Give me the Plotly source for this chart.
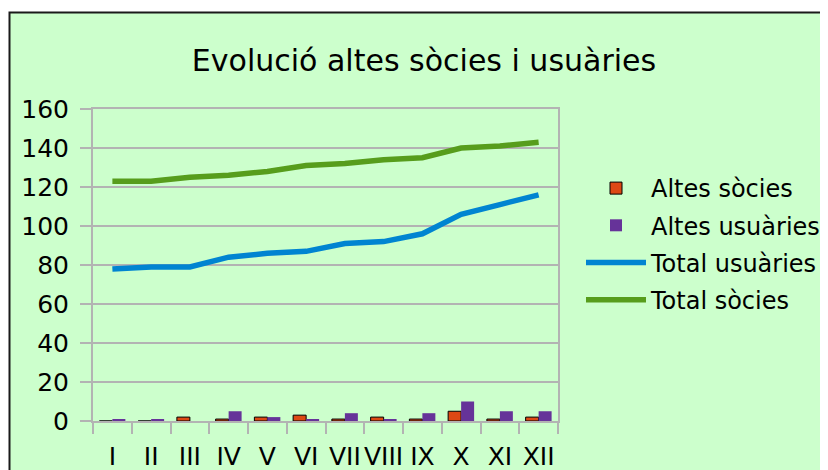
import plotly.graph_objects as go

months = ["I", "II", "III", "IV", "V", "VI", "VII", "VIII", "IX", "X", "XI", "XII"]
altes_socies = [0, 0, 2, 1, 2, 3, 1, 2, 1, 5, 1, 2]
altes_usuaries = [1, 1, 0, 5, 2, 1, 4, 1, 4, 10, 5, 5]
total_usuaries = [78, 79, 79, 84, 86, 87, 91, 92, 96, 106, 111, 116]
total_socies = [123, 123, 125, 126, 128, 131, 132, 134, 135, 140, 141, 143]
y_ticks = [0, 20, 40, 60, 80, 100, 120, 140, 160]

FONT = "DejaVu Sans"
GRID = "#B3B3B3"
OFF = 8  # page body margin

fig = go.Figure()
fig.add_trace(go.Bar(x=months, y=altes_socies, name="Altes sòcies",
                     marker=dict(color="#DD4814", line=dict(color="#000000", width=1)),
                     legendgroup="a"))
fig.add_trace(go.Bar(x=months, y=altes_usuaries, name="Altes usuàries",
                     marker=dict(color="#663399", line=dict(width=0)),
                     legendgroup="b"))
fig.add_trace(go.Scatter(x=months, y=total_usuaries, name="Total usuàries", mode="lines",
                         line=dict(color="#0084D1", width=5.5), legendgroup="c"))
fig.add_trace(go.Scatter(x=months, y=total_socies, name="Total sòcies", mode="lines",
                         line=dict(color="#579D1C", width=5.5), legendgroup="d"))

W, H = 828, 470
L, T = 93 - OFF, 109 - OFF
pw, ph = 465, 312
R = W - L - pw
B = H - T - ph

fig.add_shape(type="rect", xref="paper", yref="paper",
              x0=(1.5 - L) / pw, x1=(W + 20 - L) / pw,
              y0=(T + ph - (H + 20)) / ph, y1=(T + ph - 4.5) / ph,
              fillcolor="#CCFFCC", line=dict(color="#1A1A1A", width=2), layer="below")

fig.update_layout(
    width=W, height=H,
    margin=dict(l=L, r=R, t=T, b=B, autoexpand=False),
    paper_bgcolor="white",
    plot_bgcolor="rgba(0,0,0,0)",
    font=dict(family=FONT, size=24, color="#000000"),
    title=dict(text="Evolució altes sòcies i usuàries", font=dict(size=30, family=FONT),
               x=(424 - OFF) / W, xanchor="center", y=1 - (60 - OFF) / H, yanchor="middle",
               xref="container", yref="container"),
    barmode="group", bargap=0.33, bargroupgap=0,
    showlegend=True,
    legend=dict(x=(573 - L) / pw, xanchor="left", y=(T + ph - 236) / ph, yanchor="middle",
                font=dict(size=24, family=FONT), bgcolor="rgba(0,0,0,0)",
                traceorder="grouped", tracegroupgap=3, itemwidth=60),
    xaxis=dict(type="category", tickson="boundaries", ticks="outside", ticklen=11, tickcolor=GRID,
               tickwidth=2, showline=True, linecolor=GRID, linewidth=2, mirror=True,
               showgrid=False, tickangle=0, ticklabelstandoff=12,
               tickfont=dict(size=25, family=FONT)),
    yaxis=dict(range=[0, 160], tickvals=y_ticks, ticks="outside", ticklen=11, tickcolor=GRID,
               tickwidth=2, showline=True, linecolor=GRID, linewidth=2, mirror=True,
               showgrid=True, gridcolor=GRID, gridwidth=2, zeroline=False,
               ticklabelstandoff=6, tickfont=dict(size=25, family=FONT)),
)

fig.write_html("out.html")
